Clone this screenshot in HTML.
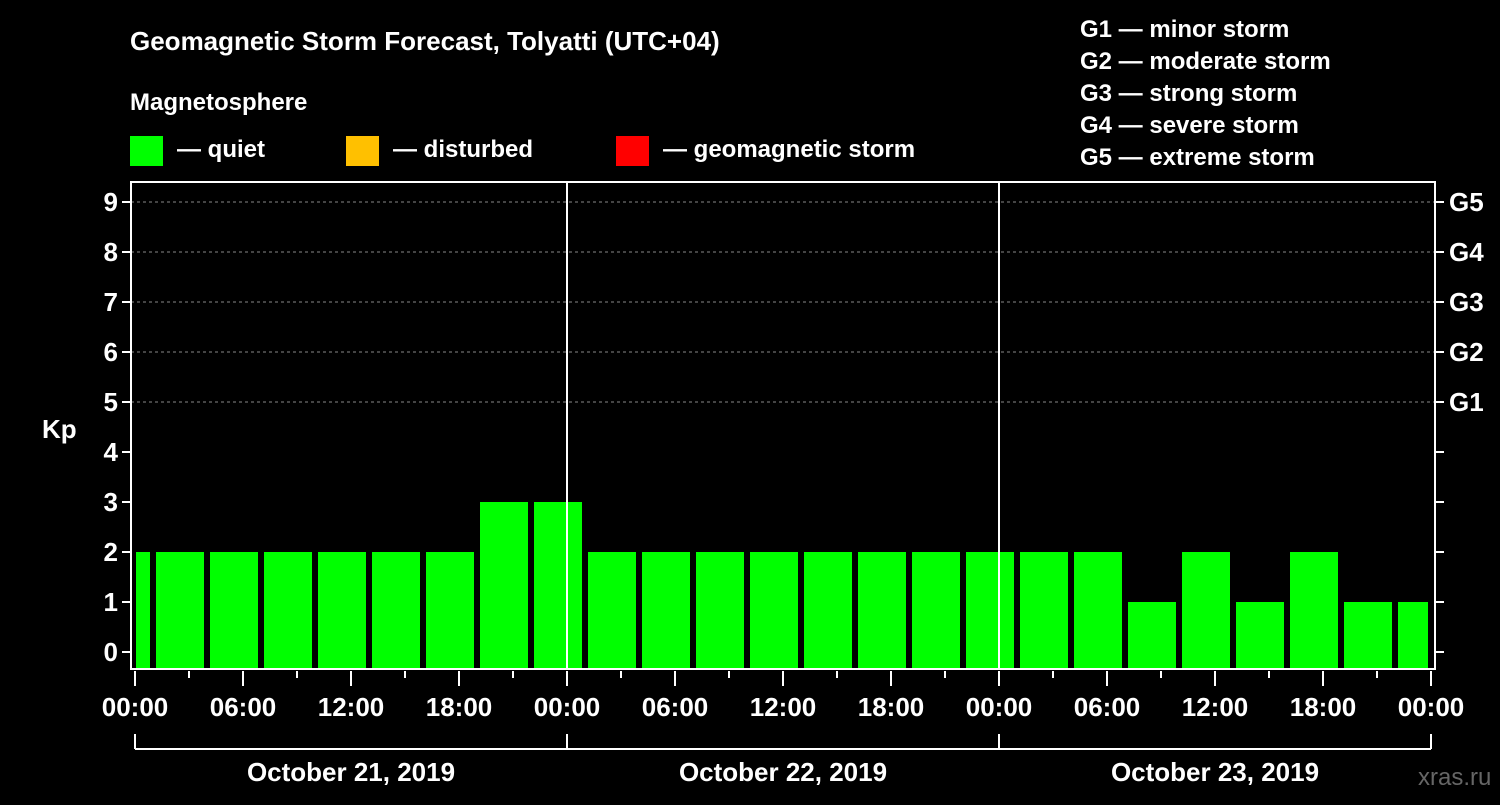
<!DOCTYPE html>
<html><head><meta charset="utf-8"><style>
body{margin:0;background:#000;width:1500px;height:800px;overflow:hidden}
svg text{font-family:"Liberation Sans",Arial,sans-serif;font-weight:bold;fill:#fff}
</style></head><body>
<svg id="c" width="1500" height="800" xmlns="http://www.w3.org/2000/svg">
<text x="130" y="50" font-size="26">Geomagnetic Storm Forecast, Tolyatti (UTC+04)</text>
<text x="130" y="110" font-size="24">Magnetosphere</text>
<g><rect x="130" y="136" width="33" height="30" fill="#00ff00"/><text x="177" y="157" font-size="24">— quiet</text></g>
<g><rect x="346" y="136" width="33" height="30" fill="#ffc000"/><text x="393" y="157" font-size="24">— disturbed</text></g>
<g><rect x="616" y="136" width="33" height="30" fill="#ff0000"/><text x="663" y="157" font-size="24">— geomagnetic storm</text></g>
<g font-size="24">
<text x="1080" y="37">G1 — minor storm</text><text x="1080" y="69">G2 — moderate storm</text><text x="1080" y="101">G3 — strong storm</text><text x="1080" y="133">G4 — severe storm</text><text x="1080" y="165">G5 — extreme storm</text></g>
<text x="42" y="438" font-size="26">Kp</text>
<text x="1418" y="785" font-size="24" fill="#555" style="fill:#666;font-weight:normal">xras.ru</text>
<g id="g"></g>
</svg>
<script>
const kpValues=[2,2,2,2,2,2,2,3,3,2,2,2,2,2,2,2,2,2,2,1,2,1,2,1,1];
const yTicks=[0,1,2,3,4,5,6,7,8,9];
const gLabels=["G1","G2","G3","G4","G5"];
const xTickLabels=["00:00","06:00","12:00","18:00","00:00","06:00","12:00","18:00","00:00","06:00","12:00","18:00","00:00"];
const dayLabels=["October 21, 2019","October 22, 2019","October 23, 2019"];
const NS="http://www.w3.org/2000/svg",g=document.getElementById('g');
const X0=135,PX_H=18,L=131,R=1435,T=182,B=669;
const xs=h=>X0+h*PX_H, ys=v=>652-v*50;
function mk(t,a,txt){const e=document.createElementNS(NS,t);for(const k in a)e.setAttribute(k,a[k]);if(txt!=null)e.textContent=txt;g.appendChild(e);return e;}
// gridlines
[5,6,7,8,9].forEach(v=>{const e=mk('line',{x1:L,x2:R,y1:ys(v),y2:ys(v),stroke:'#888','stroke-dasharray':'3,3','stroke-width':1});

});
// bars
kpValues.forEach((v,i)=>{let s=xs(-2+3*i)+3,e2=xs(1+3*i)-3;s=Math.max(s,L+5);e2=Math.min(e2,R-7);
const r=mk('rect',{x:s,y:ys(v),width:e2-s,height:B-ys(v),fill:v>=5?'#ff0000':v>=4?'#ffc000':'#00ff00'});

});
// day separators
[1,2].forEach(d=>{const e=mk('line',{x1:xs(24*d),x2:xs(24*d),y1:T,y2:B,stroke:'#fff','stroke-width':2});

});
// frame
const f=mk('rect',{x:L,y:T,width:R-L,height:B-T,fill:'none',stroke:'#fff','stroke-width':2});


// y ticks
yTicks.forEach(v=>{mk('line',{x1:L-9,x2:L,y1:ys(v),y2:ys(v),stroke:'#fff','stroke-width':2});
mk('line',{x1:R,x2:R+9,y1:ys(v),y2:ys(v),stroke:'#fff','stroke-width':2});
const t=mk('text',{x:L-13,y:ys(v)+9,'font-size':26,'text-anchor':'end'},String(v));

});
gLabels.forEach((lab,i)=>{const t=mk('text',{x:R+14,y:ys(5+i)+9,'font-size':26},lab);

});
// x ticks
for(let h=0;h<=72;h+=3){const major=h%6===0;mk('line',{x1:xs(h),x2:xs(h),y1:B+2,y2:B+(major?17:9),stroke:'#fff','stroke-width':2});}
xTickLabels.forEach((lab,i)=>{const t=mk('text',{x:xs(i*6),y:716,'font-size':26,'text-anchor':'middle'},lab);

});
// date bracket
mk('line',{x1:xs(0),x2:xs(72),y1:749,y2:749,stroke:'#fff','stroke-width':2});
[0,24,48,72].forEach(h=>mk('line',{x1:xs(h),x2:xs(h),y1:734,y2:749,stroke:'#fff','stroke-width':2}));
dayLabels.forEach((lab,i)=>{const t=mk('text',{x:xs(24*i+12),y:781,'font-size':26,'text-anchor':'middle'},lab);

});
</script>
</body></html>
